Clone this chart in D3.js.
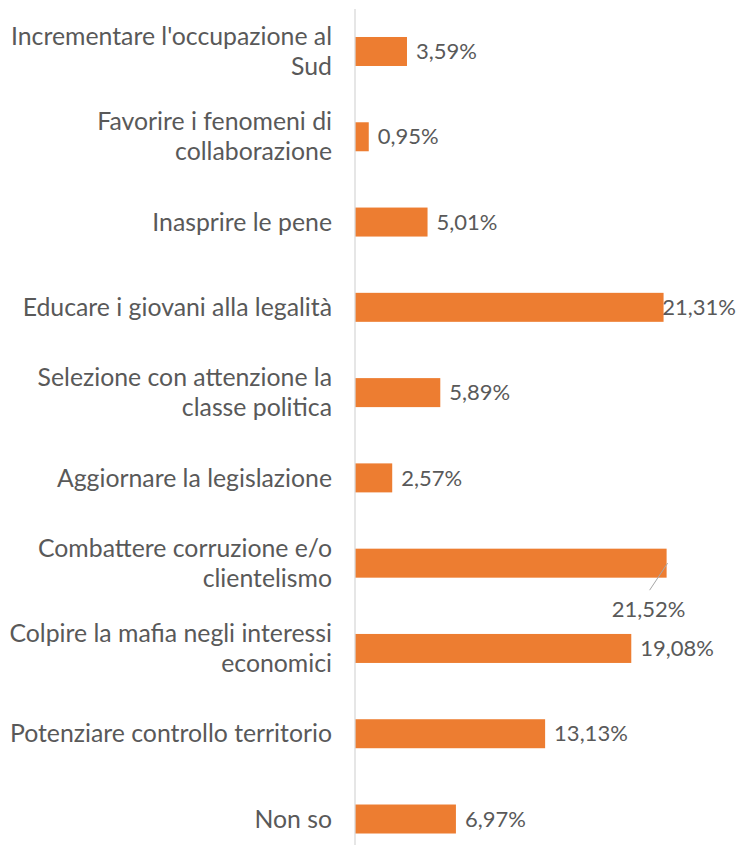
<!DOCTYPE html>
<html>
<head>
<meta charset="utf-8">
<script src="https://cdn.jsdelivr.net/npm/d3@7"></script>
<style>
  html, body { margin: 0; padding: 0; background: #ffffff; }
  svg { display: block; }
</style>
</head>
<body>
<svg id="chart" width="736" height="845"></svg>
<script>
// Survey answers (top to bottom) and their shares in percent
const categories = [
  "Incrementare l'occupazione al\nSud",
  "Favorire i fenomeni di\ncollaborazione",
  "Inasprire le pene",
  "Educare i giovani alla legalità",
  "Selezione con attenzione la\nclasse politica",
  "Aggiornare la legislazione",
  "Combattere corruzione e/o\nclientelismo",
  "Colpire la mafia negli interessi\neconomici",
  "Potenziare controllo territorio",
  "Non so"
];
const values = [3.59, 0.95, 5.01, 21.31, 5.89, 2.57, 21.52, 19.08, 13.13, 6.97];

// the one value label that sits below its bar with a leader line
const calloutIndex = 6;

const W = 736, H = 845;
const axisX = 355;
const bandTop = 8.85, bandBottom = 861.65;
const textColor = "#595959";
const barColor = "#ED7D31";
const font = "Lato, 'Open Sans', sans-serif";

const svg = d3.select("#chart");

const x = d3.scaleLinear().domain([0, 1]).range([axisX, axisX + 14.48]);
const y = d3.scaleBand()
  .domain(d3.range(categories.length))
  .range([bandTop, bandBottom])
  .paddingInner(0.66)
  .paddingOuter(0.33);

const itFormat = d3.formatLocale({ decimal: ",", thousands: ".", grouping: [3], currency: ["", " €"] });
const pct = v => itFormat.format(".2f")(v) + "%";

// bars
svg.append("g").selectAll("rect")
  .data(values)
  .join("rect")
  .attr("x", x(0))
  .attr("y", (d, i) => y(i))
  .attr("width", d => x(d) - x(0))
  .attr("height", y.bandwidth())
  .attr("fill", barColor);

// vertical category axis line
svg.append("line")
  .attr("x1", axisX).attr("x2", axisX)
  .attr("y1", 9).attr("y2", H)
  .attr("stroke", "#d9d9d9")
  .attr("stroke-width", 1.3);

// category labels, right-aligned, wrapped on \n
const lineH = 30;
const catG = svg.append("g")
  .attr("font-family", font)
  .attr("font-size", 24.8)
  .attr("fill", textColor)
  .attr("text-anchor", "end");

categories.forEach((c, i) => {
  const lines = c.split("\n");
  const cy = y(i) + y.bandwidth() / 2;
  const t = catG.append("text")
    .attr("x", 332)
    .attr("y", cy - (lines.length - 1) * lineH / 2);
  lines.forEach((ln, k) => {
    t.append("tspan")
      .attr("x", 332)
      .attr("dy", k === 0 ? "0.35em" : lineH)
      .text(ln);
  });
});

// value labels
const valG = svg.append("g")
  .attr("font-family", font)
  .attr("font-size", 22)
  .attr("fill", textColor);

values.forEach((v, i) => {
  const cy = y(i) + y.bandwidth() / 2;
  const end = x(v);
  if (i === calloutIndex) {
    valG.append("line")
      .attr("x1", end + 1).attr("y1", cy)
      .attr("x2", end - 17).attr("y2", cy + 27)
      .attr("stroke", "#a6a6a6")
      .attr("stroke-width", 1);
    valG.append("text")
      .attr("x", end - 18).attr("y", cy + 46)
      .attr("dy", "0.35em")
      .attr("text-anchor", "middle")
      .text(pct(v));
  } else {
    const t = valG.append("text")
      .attr("x", end + 9).attr("y", cy)
      .attr("dy", "0.35em")
      .text(pct(v));
    const w = t.node().getComputedTextLength();
    if (end + 9 + w > W) t.attr("x", Math.min(end, W - w));
  }
});
</script>
</body>
</html>
